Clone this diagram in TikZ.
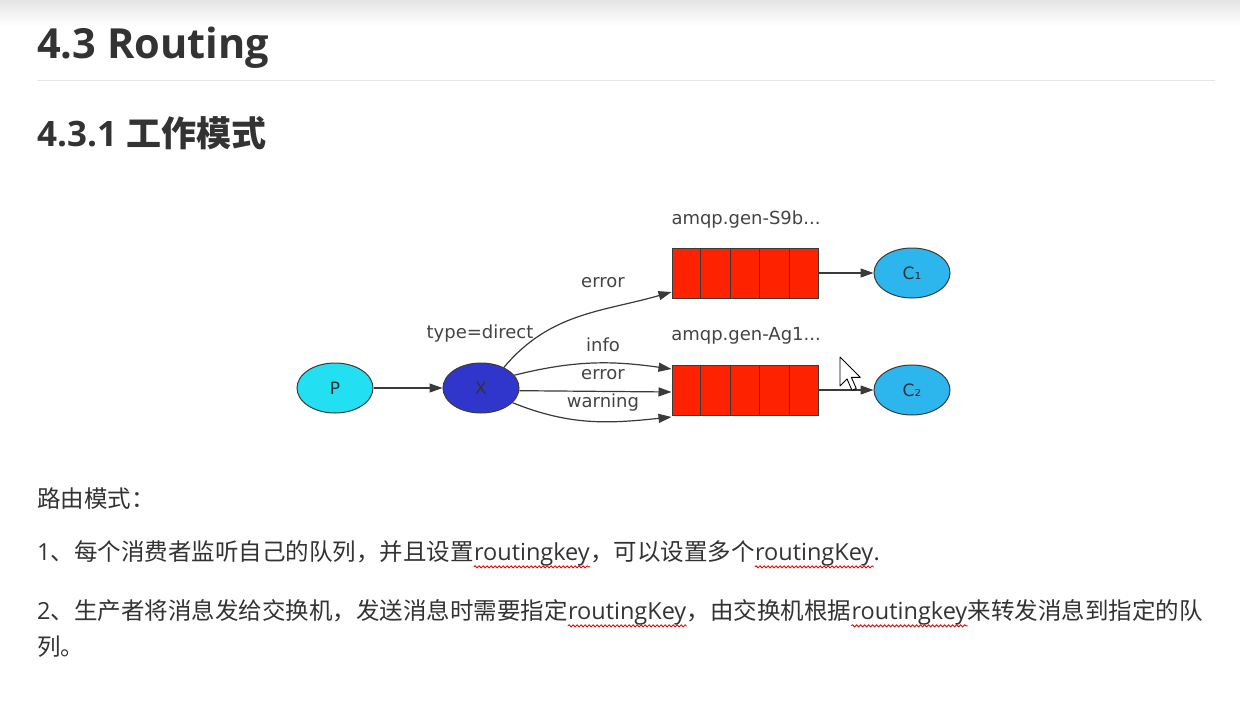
\documentclass[tikz,border=0pt]{standalone}
\usepackage{fontspec}
\setmainfont{Open Sans}
\newfontfamily\cjk{Noto Sans CJK SC}
\newfontfamily\dv{DejaVu Sans}
\usetikzlibrary{shapes.geometric,arrows.meta,calc,decorations.pathmorphing}
\definecolor{pcyan}{HTML}{22E0F2}
\definecolor{xblue}{HTML}{3035CC}
\definecolor{qred}{HTML}{FF2200}
\definecolor{csky}{HTML}{2DB6EE}
\definecolor{ink}{HTML}{333333}
\definecolor{lblgray}{HTML}{444444}
\definecolor{edgegray}{HTML}{3A3A3A}
\definecolor{rulegray}{HTML}{E6E6E6}
\tikzset{
  oval/.style={ellipse, draw=edgegray, line width=1pt, minimum width=76pt, minimum height=50pt, inner sep=0pt, font=\dv\fontsize{17}{19}\selectfont, text=ink},
  queue/.style={rectangle, draw=edgegray, line width=1pt, fill=qred, minimum width=146pt, minimum height=50pt, inner sep=0pt},
  qline/.style={draw=edgegray, line width=1pt},
  arr/.style={draw=edgegray, line width=1.2pt, -{Triangle[length=13pt,width=9pt]}},
  lbl/.style={font=\dv\fontsize{18}{20}\selectfont, text=lblgray, inner sep=0pt},
  body/.style={inner sep=0pt, anchor=base west, text=ink, font=\fontsize{23.5}{28}\selectfont},
  squig/.style={draw=red!85!black, line width=0.8pt, decorate, decoration={snake, amplitude=1.1pt, segment length=4pt}},
}
\begin{document}
\begin{tikzpicture}[x=1pt,y=1pt]
\useasboundingbox (0,0) rectangle (1240,-723);
\fill[white] (0,0) rectangle (1240,-723);
\shade[top color=black!10, bottom color=white] (0,0) rectangle (1240,-26);
% headings
\node[inner sep=0pt, anchor=base west, text=ink, font=\fontsize{41.5}{50}\selectfont\bfseries] (h1) at (37,-58) {4.3 Routing};
\draw[rulegray, line width=1pt] (37,-80) -- (1215,-80);
\node[inner sep=0pt, anchor=base west, text=ink, font=\fontsize{35}{44}\selectfont\bfseries] (h2) at (37,-146) {4.3.1 {\cjk 工作模式}};
% diagram
\node[oval, fill=pcyan] (P) at (335,-388) {P};
\node[oval, fill=xblue] (X) at (481,-388) {X};
\node[queue] (q1) at (745,-273) {};
\node[queue] (q2) at (745,-390) {};
\foreach \q in {q1,q2}{
  \foreach \i in {1,...,4}{
    \draw[qline] ($(\q.north west)!\i/5!(\q.north east)$) -- ($(\q.south west)!\i/5!(\q.south east)$);
  }
}
\node[oval, fill=csky] (C1) at (912,-273) {C₁};
\node[oval, fill=csky] (C2) at (912,-390) {C₂};
\node[lbl] (n1) at (746,-220) {amqp.gen-S9b...};
\node[lbl] (n2) at (746,-336) {amqp.gen-Ag1...};
\node[lbl] (td) at (480,-334) {type=direct};
\node[lbl] (e1) at (603,-283) {error};
\node[lbl] (li) at (603,-345) {info};
\node[lbl] (e2) at (603,-375) {error};
\node[lbl] (lw) at (603,-403) {warning};
\draw[arr] (P) -- (X);
\draw[arr] (X.42) to[out=50,in=196] ([yshift=-19pt]q1.west);
\draw[arr] (X.21) to[out=14,in=172] ([yshift=21pt]q2.west);
\draw[arr] (X.-4) -- ([yshift=-2pt]q2.west);
\draw[arr] (X.-25) to[out=-22,in=186] ([yshift=-27pt]q2.west);
\draw[arr] (q1) -- (C1);
\draw[arr] (q2) -- (C2);
% mouse cursor
\coordinate (cur) at (840,-357);
\draw[black, fill=white, line width=0.9pt, line join=round, shift={(cur)}, scale=1.75]
  (0,0) -- (0,-16.5) -- (4,-12.5) -- (6.8,-19) -- (9.3,-18) -- (6.5,-11.6) -- (11.6,-11.6) -- cycle;
% body text
\node[body] (t0) at (37,-507) {\cjk 路由模式：};
\node[body] (l1a) at (37,-560) {1{\cjk 、每个消费者监听自己的队列，并且设置}};
\node[body] (l1b) at (l1a.base east) {routingkey};
\node[body] (l1c) at (l1b.base east) {\cjk ，可以设置多个};
\node[body] (l1d) at (l1c.base east) {routingKey};
\node[body] (l1e) at (l1d.base east) {.};
\node[body] (l2a) at (37,-619) {2{\cjk 、生产者将消息发给交换机，发送消息时需要指定}};
\node[body] (l2b) at (l2a.base east) {routingKey};
\node[body] (l2c) at (l2b.base east) {\cjk ，由交换机根据};
\node[body] (l2d) at (l2c.base east) {routingkey};
\node[body] (l2e) at (l2d.base east) {\cjk 来转发消息到指定的队};
\node[body] (l3) at (37,-655) {\cjk 列。};
\foreach \w in {l1b,l1d,l2b,l2d}{
  \draw[squig] ([yshift=-1pt]\w.south west) -- ([yshift=-1pt]\w.south east);
}
\end{tikzpicture}
\end{document}
